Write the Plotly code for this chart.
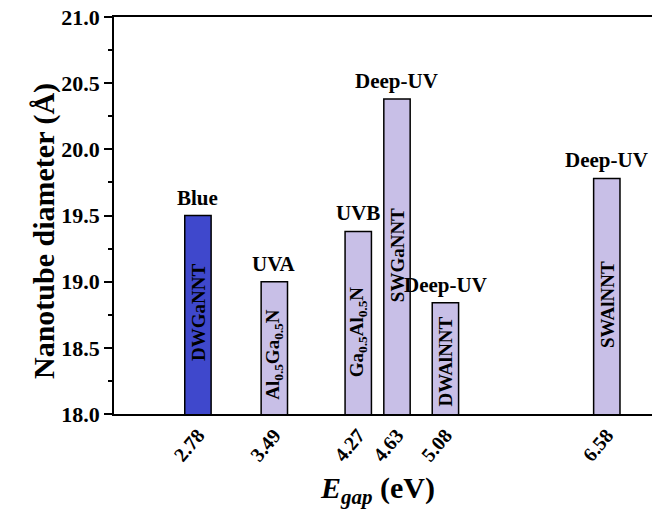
import plotly.graph_objects as go

# Data
egap = [2.78, 3.49, 4.27, 4.63, 5.08, 6.58]
egap_labels = ["2.78", "3.49", "4.27", "4.63", "5.08", "6.58"]
diameter = [19.50, 19.00, 19.38, 20.38, 18.84, 19.78]
materials = ["DWGaNNT", "Al<sub>0.5</sub>Ga<sub>0.5</sub>N", "Ga<sub>0.5</sub>Al<sub>0.5</sub>N",
             "SWGaNNT", "DWAlNNT", "SWAlNNT"]
regions = ["Blue", "UVA", "UVB", "Deep-UV", "Deep-UV", "Deep-UV"]
# vertical centre (data units) of the rotated label inside each bar
material_label_y = [18.77, 18.45, 18.62, 19.20, 18.40, 18.83]
bar_colors = ["#3F48CC", "#C8BFE7", "#C8BFE7", "#C8BFE7", "#C8BFE7", "#C8BFE7"]

FONT = "Liberation Serif"

fig = go.Figure()
fig.add_trace(go.Bar(
    x=egap, y=diameter, width=0.245,
    marker=dict(color=bar_colors, line=dict(color="black", width=1.5)),
    showlegend=False, hoverinfo="x+y",
))

annotations = []
for xv, yv, reg, mat, ly in zip(egap, diameter, regions, materials, material_label_y):
    annotations.append(dict(
        x=xv, y=yv, xref="x", yref="y", text=reg, showarrow=False,
        yanchor="bottom", yshift=4,
        font=dict(family=FONT, size=21, color="black", weight="bold"),
    ))
    annotations.append(dict(
        x=xv, y=ly, xref="x", yref="y", text=mat, showarrow=False,
        textangle=-90,
        font=dict(family=FONT, size=19, color="black", weight="bold"),
    ))

# axis titles
annotations.append(dict(
    x=0, y=0.461, xref="paper", yref="paper", xanchor="center", yanchor="middle",
    xshift=-70, textangle=-90, showarrow=False, text="Nanotube diameter (Å)",
    font=dict(family=FONT, size=30, color="black", weight="bold"),
))
annotations.append(dict(
    x=0.489, y=0, xref="paper", yref="paper", xanchor="center", yanchor="middle",
    yshift=-76, showarrow=False, text="<i>E</i><sub><i>gap</i></sub> (eV)",
    font=dict(family=FONT, size=30, color="black", weight="bold"),
))

# page body adds an 8px margin, so the figure is sized to fit the 660x509 window
fig.update_layout(
    width=652, height=501,
    margin=dict(l=106, r=8, t=9, b=95, autoexpand=False),
    plot_bgcolor="white", paper_bgcolor="white",
    annotations=annotations,
    xaxis=dict(
        range=[2.0, 7.0], automargin=False,
        tickvals=egap, ticktext=egap_labels, tickangle=-50,
        ticks="", showgrid=False, zeroline=False,
        showline=True, mirror=True, linecolor="black", linewidth=1.5,
        tickfont=dict(family=FONT, size=20, color="black", weight="bold"),
        ticklabeloverflow="allow",
    ),
    yaxis=dict(
        range=[18, 21], dtick=0.5, tick0=18, tickformat=".1f", automargin=False,
        ticks="outside", ticklen=8, tickwidth=1.5, tickcolor="black",
        minor=dict(dtick=0.25, ticks="outside", ticklen=4, tickwidth=1.5, tickcolor="black"),
        showgrid=False, zeroline=False,
        showline=True, mirror=True, linecolor="black", linewidth=1.5,
        tickfont=dict(family=FONT, size=22, color="black", weight="bold"),
        ticklabeloverflow="allow",
    ),
)

fig.write_html("out.html")
